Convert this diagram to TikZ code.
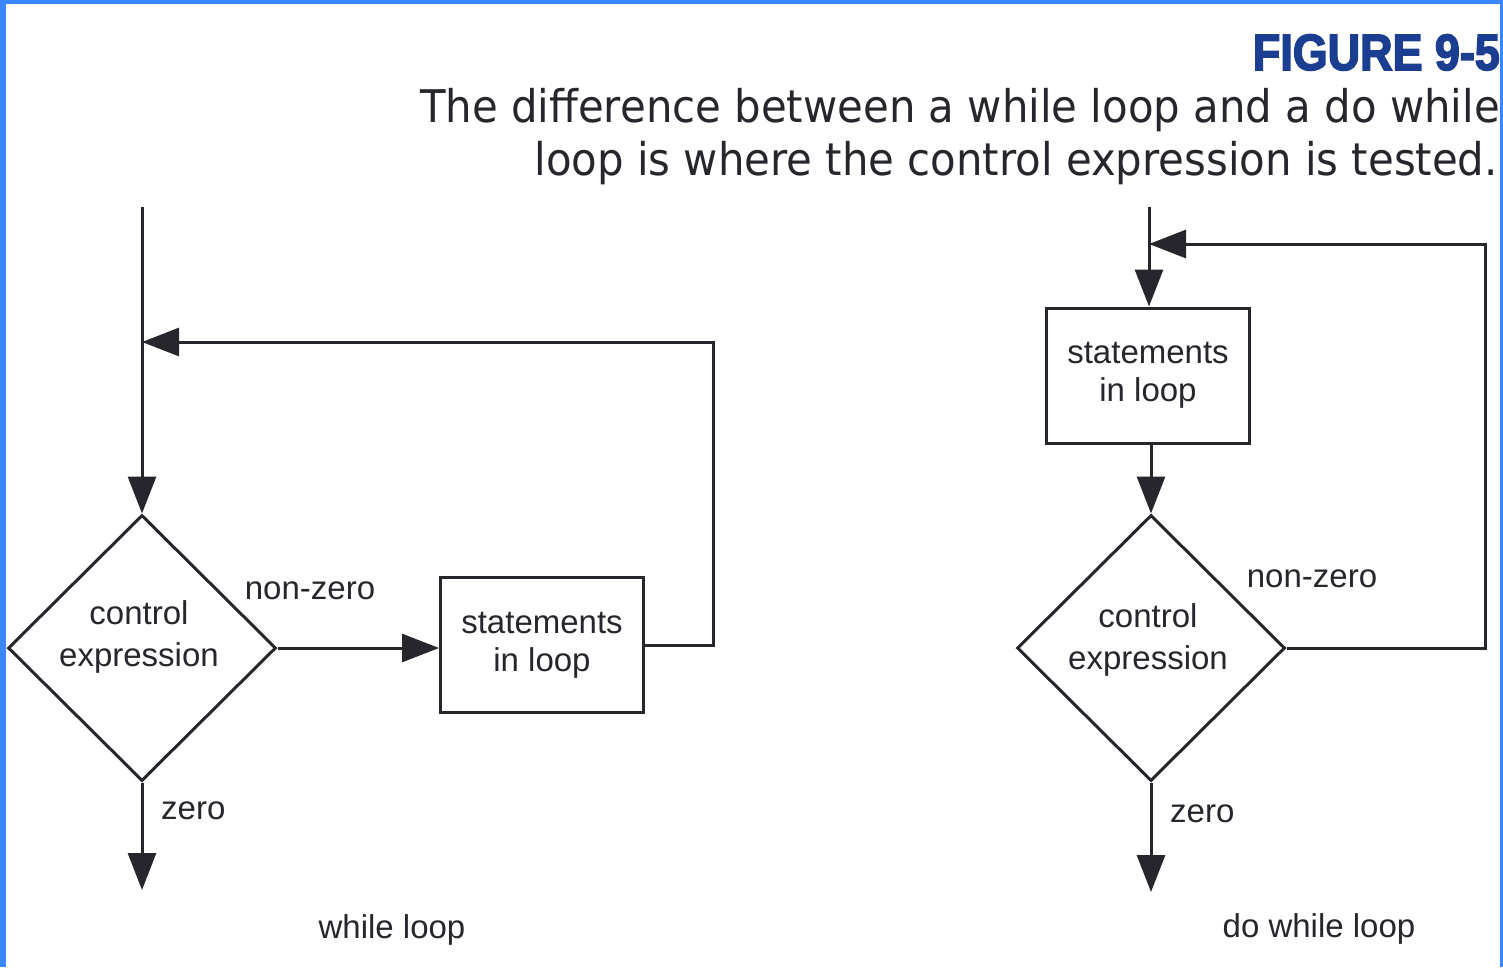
\documentclass[tikz,border=0pt]{standalone}
\usepackage{fontspec}
\setmainfont{Liberation Sans}
\newfontfamily\captionfont[FakeStretch=0.93]{DejaVu Sans}
\newfontfamily\figfont[FakeStretch=0.88,BoldFeatures={FakeBold=3}]{Liberation Sans}
\usetikzlibrary{arrows.meta,shapes.geometric}

\definecolor{frameblue}{RGB}{58,134,255}
\definecolor{figblue}{RGB}{28,62,145}
\definecolor{ink}{RGB}{38,38,44}

\tikzset{
  flow/.style={line width=3pt, draw=ink, line join=miter},
  arrowed/.style={flow, -{Triangle[length=37pt,width=28pt]}},
  stmtbox/.style={draw=ink, line width=3pt, minimum width=203pt, minimum height=135pt,
    inner sep=0pt, align=center, text=ink, font=\fontsize{33}{38}\selectfont},
  decision/.style={draw=ink, line width=3pt, diamond, minimum width=268pt, minimum height=266pt,
    inner sep=0pt},
  dectext/.style={align=center, text=ink, font=\fontsize{33}{42}\selectfont, inner sep=0pt},
  lbl/.style={text=ink, font=\fontsize{33}{40}\selectfont, inner sep=0pt},
}

\begin{document}
\begin{tikzpicture}[x=1pt, y=-1pt]
  % page area and blue frame
  \useasboundingbox (0,0) rectangle (1503,967);
  \fill[white] (0,0) rectangle (1503,967);
  \fill[frameblue] (0,0) rectangle (1503,4);
  \fill[frameblue] (0,0) rectangle (6,967);
  \fill[frameblue] (1500,0) rectangle (1503,967);

  % caption
  \node[anchor=base east, inner sep=0pt, text=figblue, font=\figfont\bfseries\fontsize{51}{55}\selectfont]
    (fignum) at (1500,70) {FIGURE 9-5};
  \node[anchor=base east, inner sep=0pt, text=ink, font=\captionfont\fontsize{45}{53}\selectfont]
    (capA) at (1500,122) {The difference between a while loop and a do while};
  \node[anchor=base east, inner sep=0pt, text=ink, font=\captionfont\fontsize{45}{53}\selectfont]
    (capB) at (1498,175) {loop is where the control expression is tested.};

  % ---- while loop ----
  \coordinate (Lstart) at (142,207);
  \coordinate (Ljoin) at (142,342);
  \coordinate (Lend) at (142,890);
  \node[decision] (Ldec) at (142,648) {};
  \node[dectext] (Ldectxt) at (139,637) {control\\expression};
  \node[stmtbox] (Lbox) at (542,645) {statements\\in loop};

  \draw[arrowed] (Lstart) -- (Ldec.north);
  \draw[arrowed] (Ldec.east) -- (Lbox.west |- Ldec.east);
  \draw[arrowed] (Lbox.east) -- ++(68,0) |- (Ljoin);
  \draw[arrowed] (Ldec.south) -- (Lend);

  \node[lbl, anchor=base] (Lnz) at (310,599) {non-zero};
  \node[lbl, anchor=base west] (Lz) at (161,819) {zero};
  \node[lbl, anchor=base] (Lcap) at (392,938) {while loop};

  % ---- do while loop ----
  \coordinate (Rstart) at (1149,207);
  \coordinate (Rjoin) at (1149,244);
  \coordinate (Rend) at (1151,892);
  \node[stmtbox] (Rbox) at (1148,375.5) {statements\\in loop};
  \node[decision] (Rdec) at (1151,648) {};
  \node[dectext] (Rdectxt) at (1148,640) {control\\expression};

  \draw[arrowed] (Rstart) -- (Rstart |- Rbox.north);
  \draw[arrowed] (Rbox.south -| Rdec.north) -- (Rdec.north);
  \draw[arrowed] (Rdec.east) -- ++(199,0) |- (Rjoin);
  \draw[arrowed] (Rdec.south) -- (Rend);

  \node[lbl, anchor=base] (Rnz) at (1312,587) {non-zero};
  \node[lbl, anchor=base west] (Rz) at (1170,822) {zero};
  \node[lbl, anchor=base] (Rcap) at (1319,937) {do while loop};
\end{tikzpicture}
\end{document}
